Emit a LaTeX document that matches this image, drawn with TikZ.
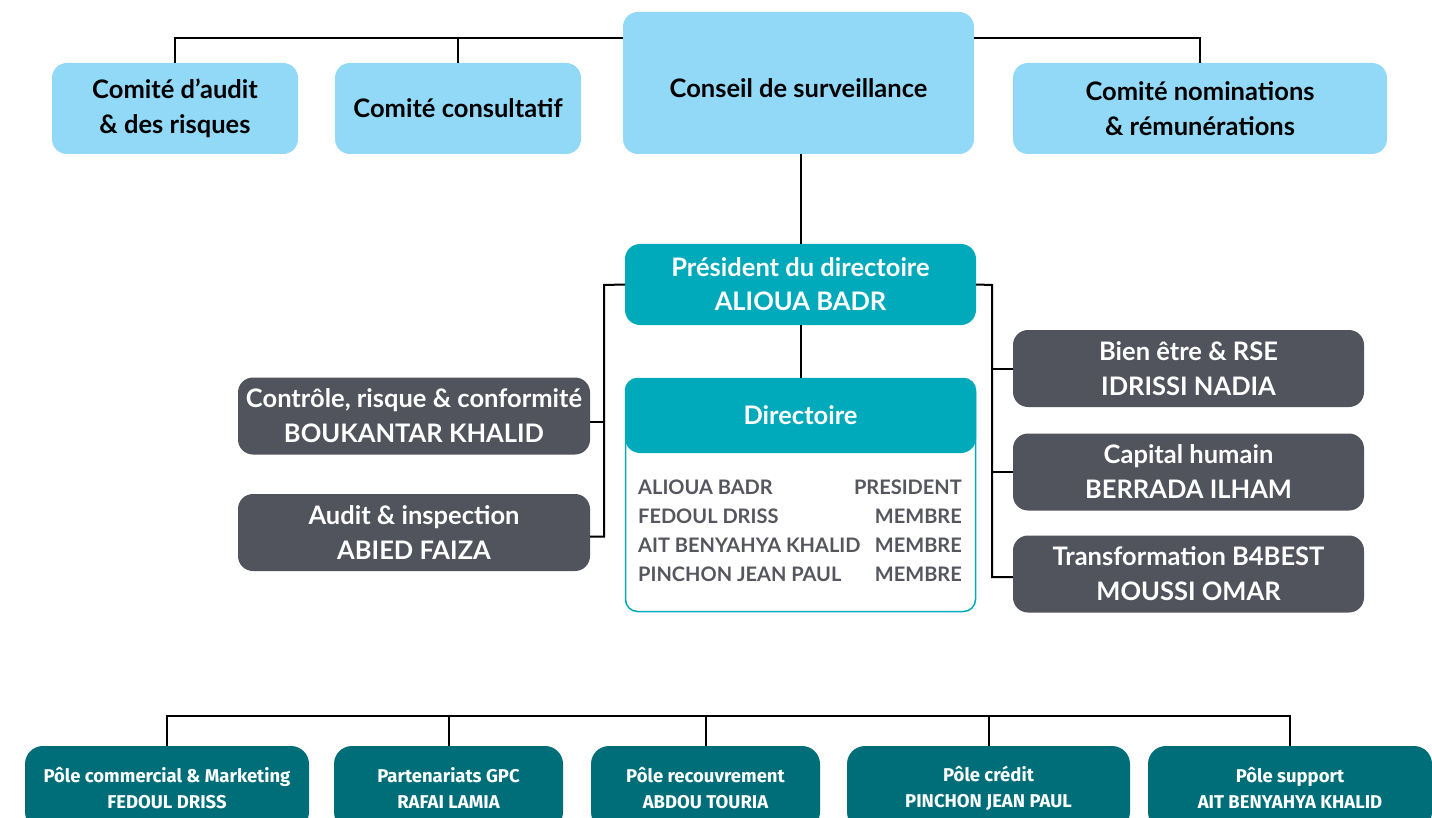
\documentclass[tikz,border=0pt]{standalone}
\usepackage{fontspec}
\setmainfont{Lato}
\newfontfamily\polefont{Fira Sans}

\definecolor{skyblue}{HTML}{92D8F7}
\definecolor{dirteal}{HTML}{00AABA}
\definecolor{slategray}{HTML}{51535D}
\definecolor{poleteal}{HTML}{006E79}
\definecolor{listgray}{HTML}{55565E}

\tikzset{
  link/.style={line width=2pt, black},
  topbox/.style={fill=skyblue, rounded corners=15pt, align=center, inner sep=1pt,
    font=\bfseries\fontsize{25.5}{35}\selectfont},
  presbox/.style={fill=dirteal, text=white, rounded corners=15pt, align=center, inner sep=1pt,
    font=\bfseries\fontsize{25.5}{34}\selectfont},
  graybox/.style={fill=slategray, text=white, rounded corners=15pt, align=center, inner sep=1pt,
    minimum width=352, minimum height=77, font=\bfseries\fontsize{25.5}{35}\selectfont},
  polebox/.style={fill=poleteal, text=white, rounded corners=18pt, align=center, inner sep=1pt,
    minimum height=84, font=\polefont\bfseries\fontsize{18.5}{26}\selectfont},
  memlist/.style={text=listgray, inner sep=0pt, font=\bfseries\fontsize{20}{29}\selectfont},
}

\begin{document}
\begin{tikzpicture}[x=1pt, y=-1pt]
\clip (0,0) rectangle (1432,818);
\fill[white] (0,0) rectangle (1432,818);

% Conseil and comites
\node[topbox, minimum width=246, minimum height=91] (audit) at (175,108.5) {Comité d’audit\\ \& des risques};
\node[topbox, minimum width=246, minimum height=91] (consult) at (458,108.5) {Comité consultatif};
\node[topbox, minimum width=351, minimum height=142] (conseil) at (798.5,83) {\rule{0pt}{29pt}Conseil de surveillance};
\node[topbox, minimum width=374, minimum height=91] (nomin) at (1200,108.5) {Comité nominations\\ \& rémunérations};
\coordinate (topbar) at (623,38);

\draw[link] (audit.north) |- (conseil.west |- topbar);
\draw[link] (consult.north) -- (consult.north |- topbar);
\draw[link] (nomin.north) |- (conseil.east |- topbar);

% Directoire
\node[presbox, minimum width=351, minimum height=81] (pres) at (800.5,284.5) {Président du directoire\\ ALIOUA BADR};
\node[draw=dirteal, line width=1.5pt, fill=white, rounded corners=12pt,
  minimum width=350, minimum height=233] (directoire) at (800.5,495) {};
\node[presbox, minimum width=351, minimum height=75] (dirhead) at (800.5,415.5) {Directoire};
\node[memlist, align=left, anchor=west] (memnames) at (638,531)
  {ALIOUA BADR\\ FEDOUL DRISS\\ AIT BENYAHYA KHALID\\ PINCHON JEAN PAUL};
\node[memlist, align=right, anchor=east] (memroles) at (962,531)
  {PRESIDENT\\ MEMBRE\\ MEMBRE\\ MEMBRE};

\draw[link] (pres.north |- conseil.south) -- (pres.north);
\draw[link] (pres.south) -- (dirhead.north);

% Left side
\node[graybox] (controle) at (414,416) {Contrôle, risque \& conformité\\ BOUKANTAR KHALID};
\node[graybox] (inspect) at (414,532.5) {Audit \& inspection\\ ABIED FAIZA};
\coordinate (lbar) at (604,285);
\draw[link] (pres.west) -- (lbar) |- ([yshift=-4]inspect.east);
\draw[link] ([yshift=-6]controle.east) -- ([yshift=-6]controle.east -| lbar);

% Right side
\node[graybox, minimum width=351] (bien) at (1188.5,368.5) {Bien être \& RSE\\ IDRISSI NADIA};
\node[graybox, minimum width=351] (capital) at (1188.5,472) {Capital humain\\ BERRADA ILHAM};
\node[graybox, minimum width=351] (transfo) at (1188.5,574) {Transformation B4BEST\\ MOUSSI OMAR};
\coordinate (rbar) at (992,285);
\draw[link] (pres.east) -- (rbar) |- ([yshift=-3]transfo.west);
\draw[link] (bien.west) -- (bien.west -| rbar);
\draw[link] (capital.west) -- (capital.west -| rbar);

% Poles
\node[polebox, minimum width=284] (commercial) at (167,788) {Pôle commercial \& Marketing\\ FEDOUL DRISS};
\node[polebox, minimum width=229] (partenariat) at (448.5,788) {Partenariats GPC\\ RAFAI LAMIA};
\node[polebox, minimum width=229] (recouvrement) at (705.5,788) {Pôle recouvrement\\ ABDOU TOURIA};
\node[polebox, minimum width=283] (credit) at (988.5,788) {Pôle crédit\\ PINCHON JEAN PAUL};
\node[polebox, minimum width=284] (support) at (1290,788) {Pôle support\\ AIT BENYAHYA KHALID};
\coordinate (botbar) at (700,716);

\draw[link] (commercial.north) |- (botbar) -| (support.north);
\foreach \p in {partenariat, recouvrement, credit}
  \draw[link] (\p.north) -- (\p.north |- botbar);
\end{tikzpicture}
\end{document}
